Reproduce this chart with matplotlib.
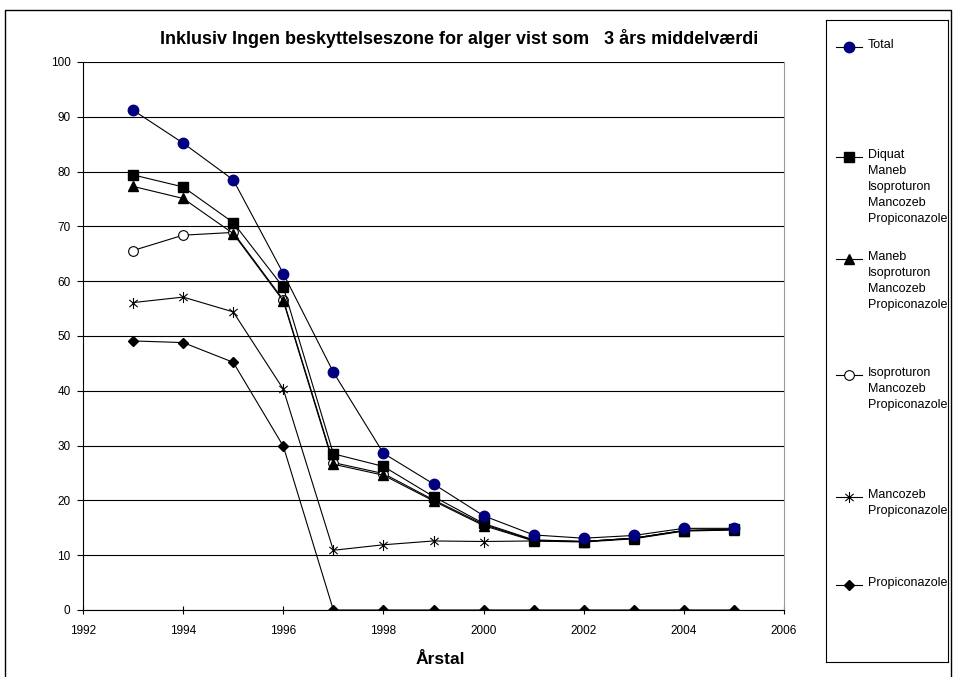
import matplotlib
matplotlib.use('Agg')
import matplotlib.pyplot as plt
from matplotlib.path import Path
from matplotlib.lines import Line2D

plt.rcParams['font.family'] = ['Liberation Sans', 'DejaVu Sans']

years = [1993, 1994, 1995, 1996, 1997, 1998, 1999, 2000, 2001, 2002, 2003, 2004, 2005]

total = [91.2, 85.2, 78.5, 61.4, 43.4, 28.6, 23.0, 17.2, 13.7, 13.1, 13.6, 14.9, 14.9]
diquat = [79.4, 77.2, 70.7, 58.9, 28.5, 26.2, 20.7, 15.8, 12.8, 12.5, 13.1, 14.5, 14.7]
maneb = [77.3, 75.1, 68.7, 56.4, 26.6, 24.6, 19.9, 15.4, 12.6, 12.4, 13.0, 14.4, 14.6]
isoproturon = [65.6, 68.4, 68.9, 56.6, 26.9, 24.9, 20.1, 15.6, 12.7, 12.5, 13.1, 14.5, 14.7]
mancozeb = [56.1, 57.1, 54.4, 40.3, 10.9, 11.9, 12.6, 12.5, 12.6, 12.5, 13.1, 14.5, 14.7]
propiconazole = [49.1, 48.8, 45.2, 29.9, 0, 0, 0, 0, 0, 0, 0, 0, 0]

labels = ['Total',
          'Diquat\nManeb\nIsoproturon\nMancozeb\nPropiconazole',
          'Maneb\nIsoproturon\nMancozeb\nPropiconazole',
          'Isoproturon\nMancozeb\nPropiconazole',
          'Mancozeb\nPropiconazole',
          'Propiconazole']

# Excel style star: vertical bar plus an x
star = Path([(0, -1), (0, 1), (-0.75, -0.65), (0.75, 0.65), (-0.75, 0.65), (0.75, -0.65)],
            [Path.MOVETO, Path.LINETO, Path.MOVETO, Path.LINETO, Path.MOVETO, Path.LINETO])

styles = [
    dict(marker='o', ms=7.5, mfc='#000080', mec='#000080'),
    dict(marker='s', ms=6.5, mfc='black', mec='black'),
    dict(marker='^', ms=6.5, mfc='black', mec='black'),
    dict(marker='o', ms=7, mfc='white', mec='black', mew=0.8),
    dict(marker=star, ms=8, mfc='black', mec='black', mew=0.8),
    dict(marker='D', ms=5.5, mfc='black', mec='black'),
]
series = [total, diquat, maneb, isoproturon, mancozeb, propiconazole]

fig = plt.figure(figsize=(9.54, 6.77), dpi=100)
W, H = 954.0, 677.0

ax = fig.add_axes([83 / W, 1 - 610 / H, (784 - 83) / W, (610 - 62) / H])

# draw from back to front like Excel (Total on top)
for vals, st in reversed(list(zip(series, styles))):
    ax.plot(years, vals, color='black', lw=0.8, **st)

ax.set_xlim(1992, 2006)
ax.set_ylim(0, 100)
ax.set_xticks(range(1992, 2007, 2))
ax.set_yticks(range(0, 101, 10))
ax.yaxis.grid(True, color='black', lw=0.8)
ax.set_axisbelow(True)
ax.spines['top'].set_visible(False)
ax.spines['right'].set_color('#9a9a9a')
ax.spines['left'].set_linewidth(0.8)
ax.spines['bottom'].set_linewidth(0.8)
ax.tick_params(axis='x', direction='inout', length=6, width=0.8, labelsize=8.5, pad=8)
ax.tick_params(axis='y', direction='out', length=4, width=0.8, labelsize=8.5, pad=5)

fig.text(459 / W, 1 - 38 / H, 'Inklusiv Ingen beskyttelseszone for alger vist som   3 års middelværdi',
         ha='center', va='center', fontsize=13, fontweight='bold')
fig.text(440 / W, 1 - 660 / H, 'Årstal', ha='center', va='center', fontsize=12.5, fontweight='bold')

# outer chart frame
frame = [(5, 690), (5, 10), (951, 10), (951, 690)]
fig.add_artist(Line2D([p[0] / W for p in frame], [1 - p[1] / H for p in frame],
                      color='black', lw=1, transform=fig.transFigure))

# legend box
lax = fig.add_axes([826 / W, 1 - 662 / H, (948 - 826) / W, (662 - 20) / H])
lax.set_xlim(826, 948)
lax.set_ylim(662, 20)
lax.set_xticks([])
lax.set_yticks([])
for s in lax.spines.values():
    s.set_linewidth(0.8)
entry_y = [47, 157, 259, 375, 497, 585]
for lab, st, y in zip(labels, styles, entry_y):
    lax.plot([836, 862], [y, y], color='black', lw=0.8)
    lax.plot([849], [y], **st)
    lax.text(868, y - 8, lab, ha='left', va='top', fontsize=9, linespacing=1.45)

fig.savefig('out.png', dpi=100)
